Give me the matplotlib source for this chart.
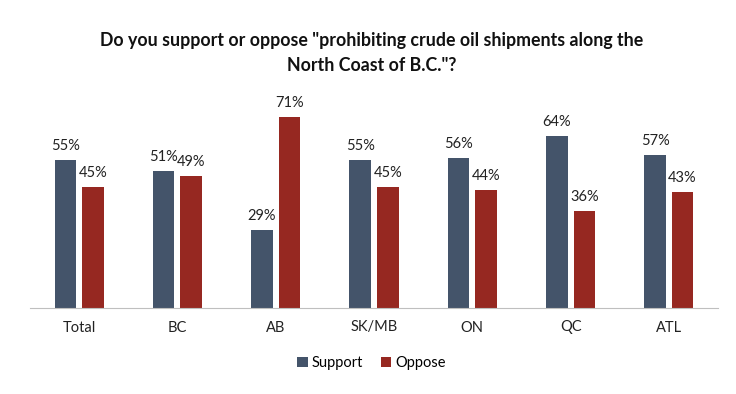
import matplotlib.pyplot as plt
import numpy as np

# ---------------------------------------------------------------------------
# Data
# ---------------------------------------------------------------------------
regions = ["Total", "BC", "AB", "SK/MB", "ON", "QC", "ATL"]
support = [55, 51, 29, 55, 56, 64, 57]
oppose = [45, 49, 71, 45, 44, 36, 43]

SUPPORT_COLOR = "#44546A"
OPPOSE_COLOR = "#962821"

plt.rcParams["font.family"] = ["Lato", "DejaVu Sans"]

fig = plt.figure(figsize=(7.36, 3.94), dpi=100)
ax = fig.add_axes([30 / 736, 86 / 394, 688 / 736, 215 / 394])

x = np.arange(len(regions))
w = 0.22
off = 0.14
b1 = ax.bar(x - off, support, w, color=SUPPORT_COLOR, label="Support")
b2 = ax.bar(x + off, oppose, w, color=OPPOSE_COLOR, label="Oppose")

for bars, vals in ((b1, support), (b2, oppose)):
    for rect, v in zip(bars, vals):
        ax.annotate(f"{v}%", (rect.get_x() + rect.get_width() / 2, v),
                    xytext=(0, 5), textcoords="offset points",
                    ha="center", va="bottom", fontsize=10.5, color="#222222")

ax.set_xlim(-0.5, len(regions) - 0.5)
ax.set_ylim(0, 80)
ax.set_xticks(x)
ax.set_xticklabels(regions, fontsize=10.5, color="#222222")
ax.tick_params(axis="x", length=0, pad=9)
ax.set_yticks([])
for s in ("top", "right", "left"):
    ax.spines[s].set_visible(False)
ax.spines["bottom"].set_color("#BFBFBF")
ax.spines["bottom"].set_linewidth(0.8)

fig.text(0.505, 0.92, 'Do you support or oppose "prohibiting crude oil shipments along the\nNorth Coast of B.C."?',
         ha="center", va="top", fontsize=12.8, fontweight="bold",
         linespacing=1.6, color="#111111")

fig.legend(handles=[b1, b2], loc="center", bbox_to_anchor=(0.505, 0.078),
           ncol=2, frameon=False, fontsize=10.5, handlelength=0.7,
           handleheight=0.7, handletextpad=0.3, columnspacing=1.2)

fig.savefig("out.png", dpi=100)
